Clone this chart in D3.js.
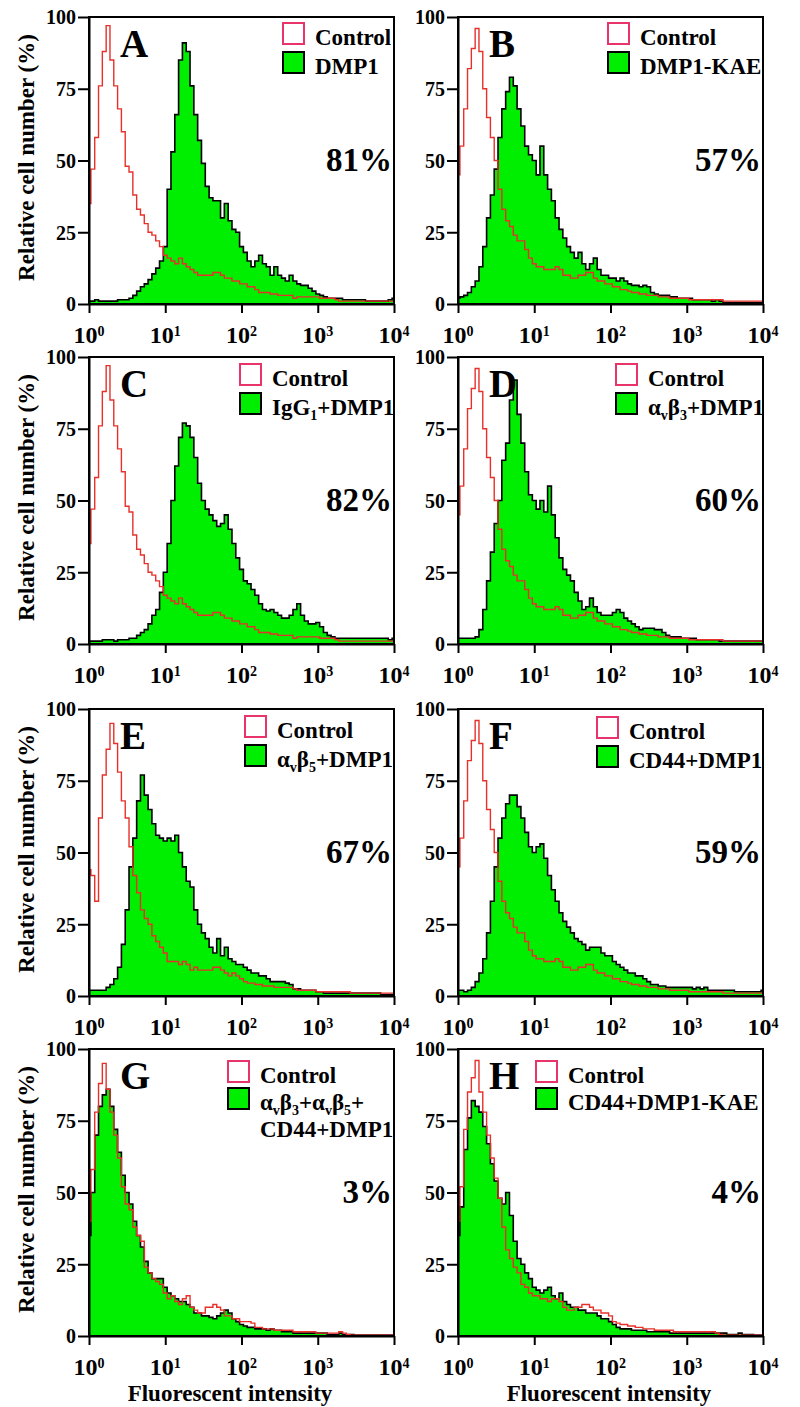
<!DOCTYPE html>
<html><head><meta charset="utf-8">
<script src="https://cdn.jsdelivr.net/npm/d3@7"></script>
<style>
body{margin:0;background:#fff}
svg{display:block}
text{font-family:"Liberation Serif","Times New Roman",Times,serif;font-weight:bold;fill:#000}
</style>
</head><body>
<svg id="chart" width="800" height="1407"></svg>
<script>
// ---------- DATA ----------
// channel centres, log10 of fluorescent intensity (categories of the histogram)
const channelLog = d3.range(81).map(k => k / 20);
const yTicks = [0, 25, 50, 75, 100];
const xTickExp = [0, 1, 2, 3, 4];
const panelLetters = ["A", "B", "C", "D", "E", "F", "G", "H"];
const percentLabels = ["81%", "57%", "82%", "60%", "67%", "59%", "3%", "4%"];
const controlLabel = "Control";
// "_x" marks a one-character subscript
const sampleLabels = [["DMP1"], ["DMP1-KAE"], ["IgG_1+DMP1"], ["α_vβ_3+DMP1"],
  ["α_vβ_5+DMP1"], ["CD44+DMP1"], ["α_vβ_3+α_vβ_5+", "CD44+DMP1"], ["CD44+DMP1-KAE"]];
const yTitle = "Relative cell number (%)";
const xTitle = "Fluorescent intensity";

// relative cell number (%) per channel
const controlAC = [35,47,58,76,88,97,85,76,68,60, 48,46,38,33,31,28,25,24,22,20,
  17,16,15,14,16,14,13,12,11,10, 10,10,10,11,11,10,9,9,8,8, 7,7,6,6,5,4,4,4,3.5,3.5,
  3,3,3,3,2,2.5,2.5,2.5,2.5,2.5, 2.5,2,2,2,2,1.5,1,1,1,1, 1,1,1,1,1,1,1,1,1,1,1];
const controlBDF = [45,55,68,82,89,96,88,75,65,58, 50,40,33,29,27,24,22,22,19,16,
  14,13,13,12,12,12,13,12,10,10, 9,9,10,10,11,11,9,8,8,7, 7,6,6,5,5,4.5,4,4,3.5,3.5,
  3,3,3,2.5,2.5,2.5,2,2,2,2, 2,1.5,1.5,1.5,1.5,1.5,1.5,1.5,1.5,1.5, 1,1,1,1,1,1,1,1,1,1,1];
const controlE = [44,42,33,62,77,86,95,88,78,68, 62,52,42,36,30,27,25,21,19,17,
  15,12,12,12,11,12,11,9,10,9, 9,9,9,10,10,9,8,7,8,7, 6,5,4.5,4.5,4,4,3.5,3.5,3.5,3,
  3,3,3,3,2.5,2,2,2,2,2, 1.5,1.5,1.5,1.5,1.5,1.5,1.5,1.5,1.5,1, 1,1,1,1,1,1,1,1,1,1,1];
const controlG = [40,58,78,88,95,86,78,70,62,52, 46,44,38,35,33,24,22,20,19,18,
  15,13,14,12,11,13,14,10,9,8, 8,10,10,11,10,9,7,7,6,6, 5,5,5,4.5,3,3,2.5,2.5,2.5,2,
  2,2,2,2,1.5,1.5,1.5,1.5,1.5,1.5, 1,1,1,1,1,1,1.5,1,0.5,0.3, 0.3,0.3,0.3,0.3,0.3,0.3,0.3,0.3,0.3,0.3,0.3];
const controlH = [40,52,72,85,90,96,85,78,70,62, 55,48,38,30,27,24,22,18,17,15,
  14,14,13,13,12,13,13,12,10,9, 9,10,10,11,11,10,9,9,8,8, 7,5,4.5,4,4,3.5,3.5,3,3,2.5,
  2.5,2.5,2,2,2,2,2,1.5,1.5,1.5, 1.5,1.5,1.5,1.5,1.5,1.5,1.5,1.5,1,0.5, 0.3,0.3,0.3,0.3,0.3,0.3,0.3,0.3,0.3,0.3,0.3];

const sampleA = [1,1,1.5,1,1,1,1,1,1.5,1.5, 1.5,2,3,4.5,6,7,8.5,10.5,12.5,15,
  20,40,53,66,85,91,88,76,66,57, 49,41,37,36,36,30,35,29,26,25, 20,18,15,13,15,17,14,13,10,13,
  10,9,8,10,8,7,6.5,6.5,5.5,4.5, 3.5,3,2.5,2,2,2,2,1.5,1.5,1.5, 1.5,1.5,1.5,1,1,1,1,1,1,1.5,2];
const sampleB = [2,2.5,3,4,6,8,13,20,30,38, 47,58,68,74,79,76,68,62,55,52,
  50,45,55,45,40,36,30,26,23,20, 18,16,18,14,12,14,16,12,10,10, 9,9,8,9,8,7,6.5,6.5,6,6.5,
  6,4,3.5,3,3,3,2.5,2.5,2,2, 2,2,1.5,1.5,1.5,1.5,1.5,1,1.5,1, 0.5,0.5,0.5,0.5,0.5,0.5,0.5,0.5,0.5,0.5,0.5];
const sampleC = [1,1,1,1,1.5,1.5,1.5,1,1.5,1.5, 1.5,2,2,3,4,5,7,10,12,18,
  25,35,50,62,72,77,76,72,65,56, 50,47,45,43,41,42,45,40,35,30, 26,22,21,19,17,14,12,11.5,12,11,
  10,9,9,10,12,14,10,8,7,7, 7.5,6,4,3,2.5,2,2,2,2,2, 2,2,2,2,2,2,2,2,2,1.5,2];
const sampleD = [2,2,2,2,2,2.5,5,12,22,32, 42,50,64,70,85,92,80,70,60,52,
  50,47,50,46,55,45,37,30,26,24, 22,18,15,12,13,16,13,11,10,10, 10,11,12,11,9,8,7,6,5,5.5,
  5.5,5.5,5,5,4,3,2.5,2.5,2.5,2, 2,2,2,1.5,1.5,1.5,1.5,1.5,1.5,1, 1,1,1,1,1,1,1,1,1,1,1];
const sampleE = [2,2,2,2,2,3,4,6,10,18, 30,45,55,68,77,70,65,60,56,55,
  54,55,54,56,50,45,40,38,30,25, 22,20,17,15,20,14,17,13,12,11, 11,10,9,8,8,7,7,6,5,5,
  5,5,4.5,4,2.5,2.5,2,2,2,2, 1.5,1.5,1,1,1,1,1,1,1,1, 1,1,1,1,1,1,1,0.5,0.5,0.5,0.5];
const sampleF = [2,2,1.5,2,3,5,8,13,22,33, 45,55,62,67,70,70,66,62,57,52,
  50,52,53,48,42,37,33,29,26,24, 22,20,19,18,16,17,17,17,15,14, 14,12,11,10,9,8,8,7,7,6,
  5,4,4,3.5,3.5,3,3,3,3,3, 3,3,2.5,3,2.5,3,2,2,2,2, 2,2,2,1.5,1.5,1.5,1.5,1.5,1.5,1.5,2];
const sampleG = [35,50,70,80,84,86,80,72,64,56, 50,46,40,35,31,26,22,20,20,20,
  17,15,14,13,12,12,11,10,8,8, 7,7,6.5,6,7,8,9,8,6,5, 4,3.5,3,3,2.5,2.5,2.5,2,2.5,2,
  2,1.5,1.5,1.5,1,1,1,1,1,1, 1,1,1,0.5,0.5,0.5,1,0.5,0.5,0.5, 0.3,0.3,0.3,0.3,0.3,0.3,0.3,0.3,0.3,0.3,0.3];
const sampleH = [35,45,65,76,82,80,78,73,67,60, 54,48,46,50,42,33,27,25,22,20,
  17,16,15,16,17,14,13,15,12,11, 10,10,9,9,8,8,8,7,6,6, 5,4,3,2.5,2.5,2.5,2,2,2,2,
  1.5,1.5,1.5,1.5,1.5,1.5,1,1,1,1, 1,1,1,1,1,1,1,1,1,1, 1,0.5,0.5,0.5,1,0.5,0.5,0.5,0.3,0.3,0.3];

const controlSeries = [controlAC, controlBDF, controlAC, controlBDF, controlE, controlBDF, controlG, controlH];
const sampleSeries = [sampleA, sampleB, sampleC, sampleD, sampleE, sampleF, sampleG, sampleH];

// ---------- LAYOUT ----------
const colX = [89, 458], plotW = 305;
const rowY = [17, 357, 709, 1049], plotH = 287;
const legendBoxX = [283, 608, 240, 616, 245, 597, 228, 536];
const legendTopOff = [6, 6, 7, 7, 7, 8, 12, 12];
const GREEN = "#00ee00", RED = "#e8302a", PINK = "#e8336b";
const FONT = '"Liberation Serif","Times New Roman",Times,serif';

const svg = d3.select("#chart");
svg.append("rect").attr("width", 800).attr("height", 1407).attr("fill", "#fff");

function richText(sel, str, subSize) {
  const parts = str.split(/(_.)/).filter(s => s.length);
  let shifted = false;
  parts.forEach(p => {
    if (p[0] === "_" && p.length === 2) {
      sel.append("tspan").attr("font-size", subSize).attr("dy", 5).text(p[1]);
      shifted = true;
    } else {
      const t = sel.append("tspan").text(p);
      if (shifted) { t.attr("dy", -5); shifted = false; }
    }
  });
}

panelLetters.forEach((letter, i) => {
  const col = i % 2, row = Math.floor(i / 2);
  const x0 = colX[col], top = rowY[row];
  const x = d3.scaleLog().domain([1, 1e4]).range([x0, x0 + plotW]);
  const y = d3.scaleLinear().domain([0, 100]).range([top + plotH, top]);
  const g = svg.append("g").style("font-family", FONT).style("font-weight", "bold");

  const clipId = "clip" + i;
  svg.append("clipPath").attr("id", clipId).append("rect")
    .attr("x", x0).attr("y", top).attr("width", plotW).attr("height", plotH);

  const pts = (arr) => channelLog.map((lg, k) => ({ v: Math.pow(10, lg), c: arr[k] }));
  const sData = pts(sampleSeries[i]);
  const cData = pts(controlSeries[i]);

  const area = d3.area().curve(d3.curveStep)
    .x(d => x(d.v)).y0(y(0)).y1(d => y(d.c));
  const line = d3.line().curve(d3.curveStep)
    .x(d => x(d.v)).y(d => y(d.c));

  const plot = g.append("g").attr("clip-path", `url(#${clipId})`);
  plot.append("path").datum(sData).attr("d", area).attr("fill", GREEN);
  plot.append("path").datum(sData).attr("d", line).attr("fill", "none")
    .attr("stroke", "#000").attr("stroke-width", 1.6).attr("stroke-linejoin", "miter");

  // axes
  const yAxis = d3.axisLeft(y).tickValues(yTicks).tickSize(11).tickSizeOuter(0).tickPadding(2);
  const ya = g.append("g").attr("transform", `translate(${x0},0)`).call(yAxis);
  ya.attr("font-family", null).attr("font-size", null);
  ya.selectAll("text").attr("font-size", 20).attr("dy", "0.34em")
    .style("font-family", FONT).style("font-weight", "bold");
  const xAxis = d3.axisBottom(x).tickValues(xTickExp.map(e => Math.pow(10, e)))
    .tickSize(9).tickSizeOuter(0).tickFormat("");
  const xa = g.append("g").attr("transform", `translate(0,${top + plotH})`).call(xAxis);
  [ya, xa].forEach(a => {
    a.select(".domain").attr("stroke-width", 2);
    a.selectAll(".tick line").attr("stroke-width", 2);
  });
  // frame
  g.append("rect").attr("x", x0).attr("y", top).attr("width", plotW).attr("height", plotH)
    .attr("fill", "none").attr("stroke", "#000").attr("stroke-width", 2);

  // x tick labels 10^n
  xTickExp.forEach(e => {
    const t = g.append("text").attr("x", x(Math.pow(10, e))).attr("y", top + plotH + 39)
      .attr("text-anchor", "middle").attr("font-size", 24);
    t.append("tspan").text("10");
    t.append("tspan").attr("font-size", 14).attr("dy", -7).text(String(e));
  });

  // control line on top
  plot.append("path").datum(cData).attr("d", line).attr("fill", "none")
    .attr("stroke", RED).attr("stroke-width", 1.4);

  // panel letter
  g.append("text").attr("x", x0 + 31).attr("y", top + 40).attr("font-size", 39).text(letter);
  // percent
  g.append("text").attr("x", x0 + plotW - 2).attr("y", top + 154).attr("text-anchor", "end")
    .attr("font-size", 33).text(percentLabels[i]);

  // legend
  const bx = legendBoxX[i], by = top + legendTopOff[i];
  const lineGap = (sampleLabels[i].length > 1 || i >= 6) ? 27 : 29;
  g.append("rect").attr("x", bx).attr("y", by).attr("width", 21).attr("height", 21)
    .attr("fill", "#fff").attr("stroke", PINK).attr("stroke-width", 2);
  g.append("rect").attr("x", bx).attr("y", by + lineGap).attr("width", 21).attr("height", 21)
    .attr("fill", GREEN).attr("stroke", "#000").attr("stroke-width", 2);
  g.append("text").attr("x", bx + 32).attr("y", by + 22).attr("font-size", 23).text(controlLabel);
  sampleLabels[i].forEach((lab, j) => {
    const t = g.append("text").attr("x", bx + 32).attr("y", by + 22 + lineGap * (j + 1))
      .attr("font-size", 23);
    richText(t, lab, 14);
  });

  // y title (left column only)
  if (col === 0) {
    g.append("text").attr("transform", `translate(34,${top + plotH / 2 - 3}) rotate(-90)`)
      .attr("text-anchor", "middle").attr("font-size", 23).text(yTitle);
  }
  // x title (bottom row)
  if (row === 3) {
    g.append("text").attr("x", col === 0 ? 230 : 609).attr("y", 1401)
      .attr("text-anchor", "middle").attr("font-size", 23).text(xTitle);
  }
});
</script>
</body></html>
